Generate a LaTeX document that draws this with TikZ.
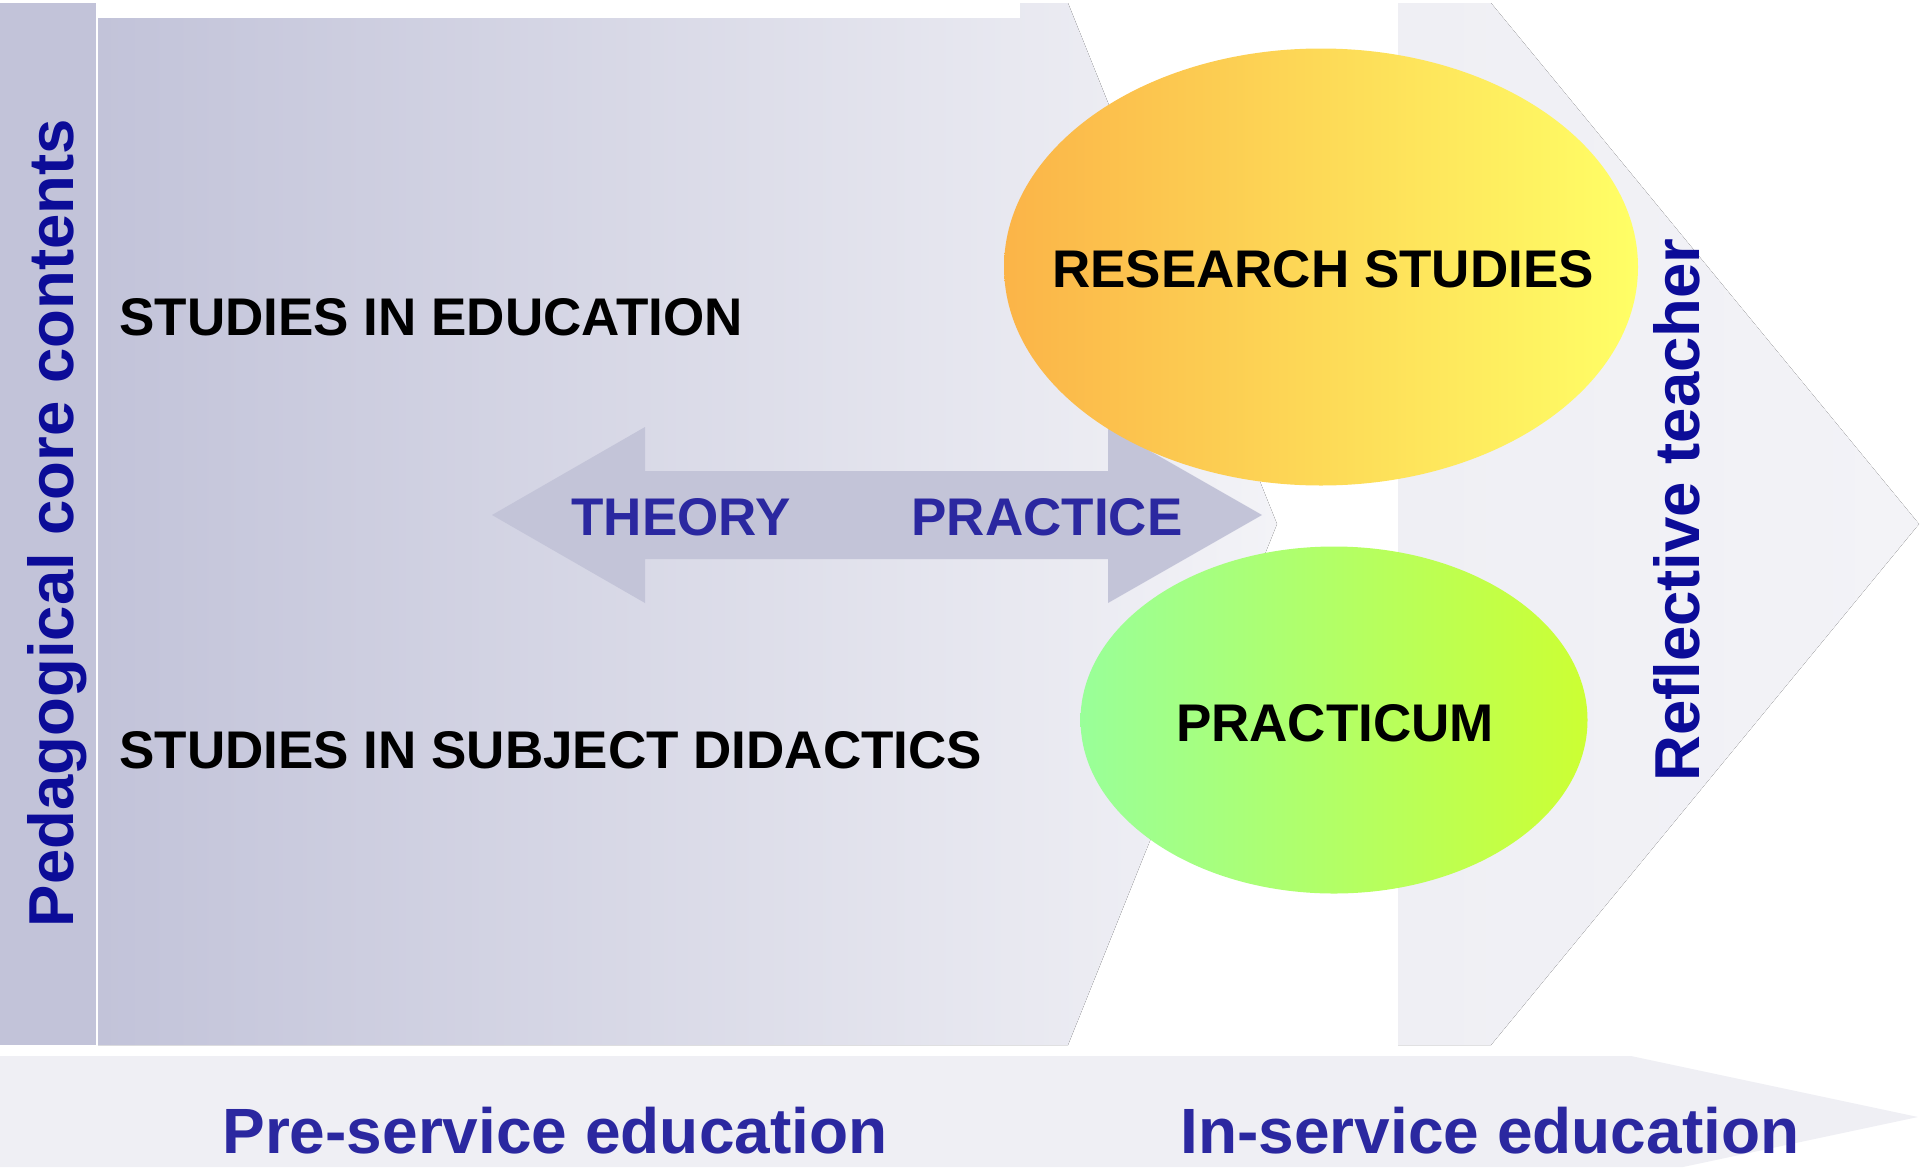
\documentclass[tikz,border=0pt]{standalone}
\usepackage{fontspec}
\setmainfont{Liberation Sans}
\usetikzlibrary{shapes.geometric}
\definecolor{barcol}{RGB}{194,195,217}
\definecolor{gradL}{RGB}{194,195,217}
\definecolor{gradR}{RGB}{243,243,247}
\definecolor{pale}{RGB}{239,239,244}
\definecolor{paleR}{RGB}{243,243,247}
\definecolor{arrowcol}{RGB}{195,196,216}
\definecolor{orangeL}{RGB}{251,180,72}
\definecolor{yellowR}{RGB}{255,255,102}
\definecolor{greenL}{RGB}{153,255,153}
\definecolor{greenR}{RGB}{204,255,51}
\definecolor{navy}{RGB}{12,12,152}
\definecolor{blueT}{RGB}{43,40,160}
\begin{document}
\begin{tikzpicture}[x=0.5pt,y=-0.5pt,
  capstext/.style={font=\fontsize{26.5pt}{30pt}\selectfont\bfseries, inner sep=0pt, anchor=base},
  bigtext/.style={font=\fontsize{32pt}{36pt}\selectfont\bfseries, inner sep=0pt, anchor=base, text=blueT},
  vtext/.style={font=\fontsize{31.75pt}{36pt}\selectfont\bfseries, inner sep=0pt, anchor=base, text=navy, rotate=90},
  blob/.style={ellipse, draw=none, inner sep=0pt}]
\useasboundingbox (0,0) rectangle (1920,1167);
% background shapes
\fill[barcol] (0,3) rectangle (96,1045);
\fill[left color=gradL, right color=gradR]
  (98,18) -- (1020,18) -- (1020,3) -- (1068,3) -- (1277,524) -- (1068,1045) -- (98,1045) -- cycle;
\fill[left color=pale, right color=paleR]
  (1398,3) -- (1491,3) -- (1919,524) -- (1491,1045) -- (1398,1045) -- cycle;
\fill[pale] (0,1056) -- (1631,1056) -- (1918,1117) -- (1683,1167) -- (0,1167) -- cycle;
% double arrow
\fill[arrowcol] (492,515) -- (645,427) -- (645,471) -- (1108,471) -- (1108,427) -- (1262,515)
  -- (1108,603) -- (1108,559) -- (645,559) -- (645,603) -- cycle;
% ellipses
\node[blob, minimum width=317pt, minimum height=218.5pt, left color=orangeL, right color=yellowR]
  (research) at (1321,267) {};
\node[blob, minimum width=253.5pt, minimum height=173.5pt, left color=greenL, right color=greenR]
  (practicum) at (1334,720) {};
\node[capstext] (researchlbl) at (1323,287) {RESEARCH STUDIES};
\node[capstext] (practicumlbl) at (1335,741) {PRACTICUM};
% texts
\node[capstext, anchor=base west] (edu) at (119,335) {STUDIES IN EDUCATION};
\node[capstext, anchor=base west] (did) at (119,768) {STUDIES IN SUBJECT DIDACTICS};
\node[capstext, text=blueT] (theory) at (681,535) {THEORY};
\node[capstext, text=blueT] (practice) at (1047,535) {PRACTICE};
\node[bigtext] (pre) at (555,1153) {Pre-service education};
\node[bigtext] (in) at (1490,1153) {In-service education};
\node[vtext] (ped) at (73,523) {Pedagogical core contents};
\node[vtext] (refl) at (1699,510) {Reflective teacher};
\end{tikzpicture}
\end{document}
